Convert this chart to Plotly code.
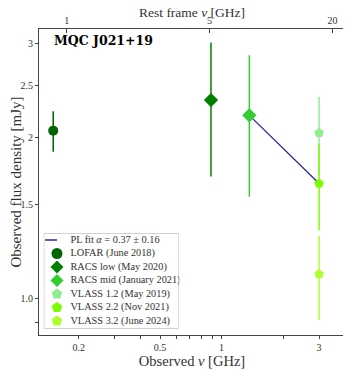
import plotly.graph_objects as go

# observed frequencies (GHz) and flux densities (mJy)
surveys = ["LOFAR (June 2018)", "RACS low (May 2020)", "RACS mid (January 2021)",
           "VLASS 1.2 (May 2019)", "VLASS 2.2 (Nov 2021)", "VLASS 3.2 (June 2024)"]
freq = [0.15, 0.8875, 1.3675, 3.0, 3.0, 3.0]
flux = [2.06, 2.35, 2.20, 2.04, 1.64, 1.11]
flux_err = [0.18, 0.66, 0.65, 0.34, 0.30, 0.20]
symbols = ["circle", "diamond", "diamond", "pentagon", "pentagon", "pentagon"]
sizes = [10, 11, 11, 10, 10, 10]
legend_sizes = [11, 10, 10, 11, 11, 11]
colors = ["#006400", "#008000", "#32CD32", "#90EE90", "#7CFC00", "#ADFF2F"]

fit_freq = [1.3675, 3.0]
fit_flux = [2.20, 1.64]
fit_label = "PL fit <i>α</i> = 0.37 ± 0.16"
FIT_COLOR = "rgba(0,0,139,0.85)"

one_plus_z = 5.73

x_ticks = [0.2, 0.3, 0.4, 0.5, 0.6, 0.7, 0.8, 0.9, 1, 2, 3, 4]
x_text = ["0.2", "", "", "0.5", "", "", "", "", "1", "", "3", ""]
y_ticks = [0.9, 1.0, 1.5, 2, 2.5, 3]
y_text = ["", "1.0", "1.5", "2", "2.5", "3"]
top_ticks = [1, 5, 20]

SERIF = "Liberation Serif"
x_range = [-0.8935, 0.604]
y_range = [-0.0685, 0.504]
LZ = 0.758  # log10(1+z)

fig = go.Figure()
fig.add_scatter(x=fit_freq, y=fit_flux, mode="lines", showlegend=False,
                line=dict(color=FIT_COLOR, width=1.3))
for i, s in enumerate(surveys):
    fig.add_scatter(
        x=[freq[i]], y=[flux[i]], mode="markers", name=s, showlegend=False,
        marker=dict(symbol=symbols[i], size=sizes[i], color=colors[i]),
        error_y=dict(type="data", array=[flux_err[i]], color=colors[i],
                     thickness=1.5, width=0),
    )
# empty trace to carry the rest-frame axis
fig.add_scatter(x=[], y=[], xaxis="x2", showlegend=False)

# hand-made legend in its own small axis (units ~ pixels inside the box)
row = [7 + 13.5 * k for k in range(7)]
fig.add_scatter(x=[1.5, 13.5], y=[row[0], row[0]], mode="lines", xaxis="x3", yaxis="y3",
                line=dict(color=FIT_COLOR, width=1.3), showlegend=False, hoverinfo="skip")
fig.add_scatter(x=[13.5] * 6, y=row[1:], mode="markers", xaxis="x3", yaxis="y3",
                marker=dict(symbol=symbols, size=legend_sizes, color=colors,
                            opacity=1, line=dict(width=0)),
                showlegend=False, hoverinfo="skip")
fig.add_scatter(x=[27] * 7, y=row, mode="text", xaxis="x3", yaxis="y3",
                text=[fit_label] + surveys, textposition="middle right",
                textfont=dict(family=SERIF, size=10.3, color="#333"),
                showlegend=False, hoverinfo="skip")
fig.add_shape(type="rect", xref="x3", yref="y3", x0=0.5, x1=135.5, y0=0.5, y1=95.5,
              fillcolor="white", line=dict(color="#d0d0d0", width=1), layer="below")

axis_line = dict(showline=True, linecolor="#444", linewidth=1,
                 showgrid=False, zeroline=False, ticks="outside", ticklen=3,
                 tickcolor="#444", automargin=False,
                 tickfont=dict(family=SERIF, size=10, color="#333"))

fig.update_layout(
    # the page body adds an 8px offset, so the figure is 8px smaller
    width=343, height=361,
    margin=dict(l=30.5, r=6, t=21, b=34),
    paper_bgcolor="white", plot_bgcolor="white",
    font=dict(family=SERIF, color="#333"),
    xaxis=dict(type="log", range=x_range, tickvals=x_ticks, ticktext=x_text,
               title=dict(text="Observed <i>ν</i> [GHz]", font=dict(size=14.5), standoff=1),
               **axis_line),
    xaxis2=dict(type="log", overlaying="x", side="top", anchor="y",
                range=[x_range[0] + LZ, x_range[1] + LZ],
                tickvals=top_ticks, ticktext=[str(t) for t in top_ticks],
                **{**axis_line, "ticks": "inside", "ticklen": 4}),
    yaxis=dict(type="log", range=y_range, tickvals=y_ticks, ticktext=y_text,
               title=dict(text="Observed flux density [mJy]", font=dict(size=15), standoff=6),
               **axis_line),
    xaxis3=dict(domain=[0.0147, 0.4584], range=[0, 136], anchor="y3", visible=False, fixedrange=True),
    yaxis3=dict(domain=[0.0196, 0.3333], range=[96, 0], anchor="x3", visible=False, fixedrange=True),
    showlegend=False,
)
# right-hand frame line
fig.add_shape(type="line", xref="paper", yref="paper", x0=1, x1=1, y0=0, y1=1,
              line=dict(color="#444", width=1))
fig.add_annotation(text="Rest frame <i>ν</i> [GHz]", xref="paper", yref="paper",
                   x=0.5, y=1.055, xanchor="center", yanchor="middle", showarrow=False,
                   font=dict(family=SERIF, size=13.5, color="#333"))
fig.add_annotation(text="<b>MQC J021+19</b>", xref="paper", yref="paper",
                   x=0.043, y=0.961, xanchor="left", yanchor="middle", showarrow=False,
                   font=dict(family="DejaVu Serif", size=12.5, color="black"))

fig.write_html("out.html")
